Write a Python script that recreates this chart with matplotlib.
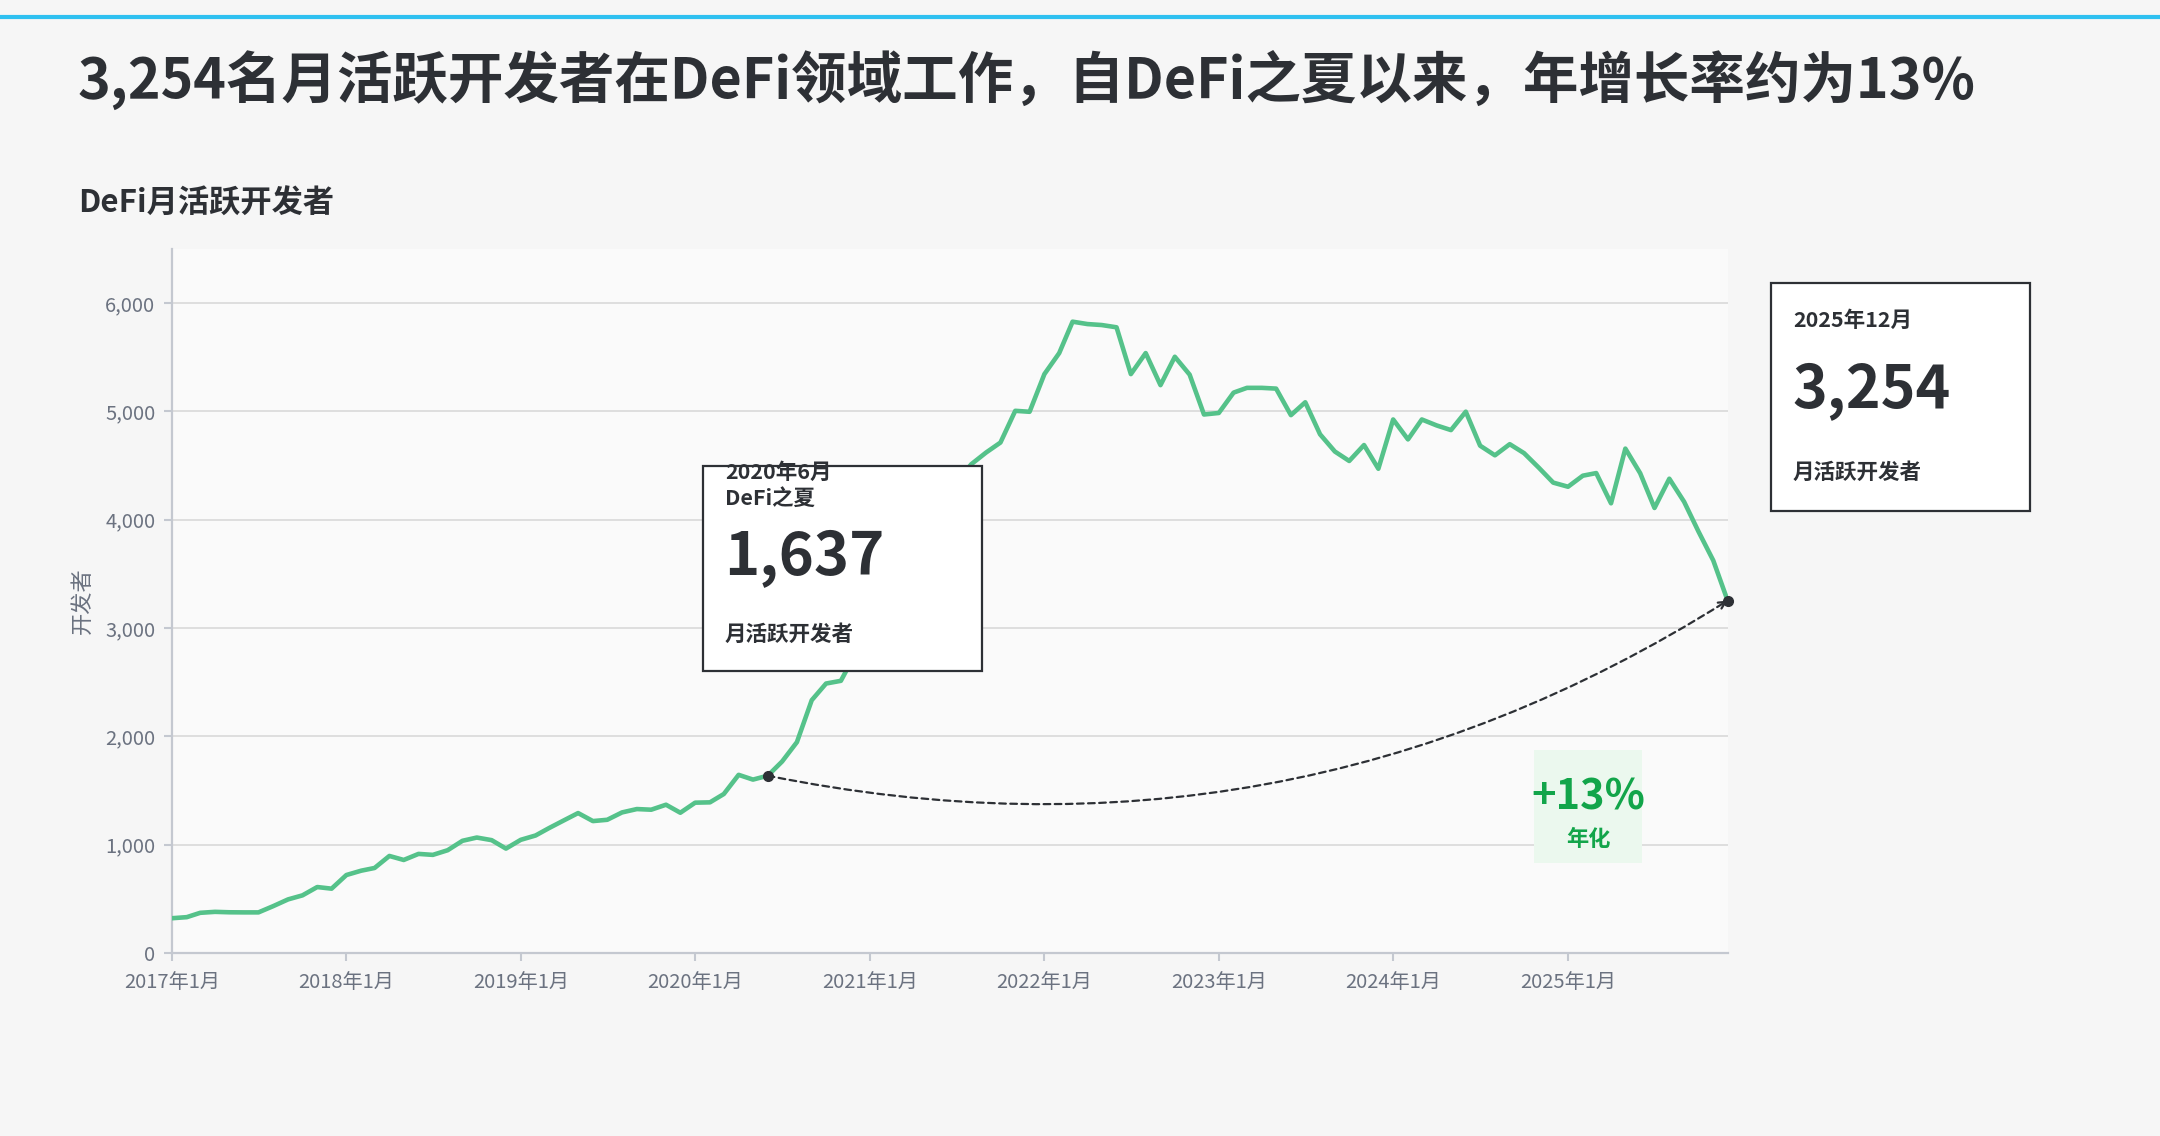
import pandas as pd
import matplotlib
matplotlib.use('Agg')
import matplotlib.pyplot as plt
from matplotlib.patches import Rectangle
from matplotlib.lines import Line2D

plt.rcParams['font.family'] = ['Noto Sans CJK SC', 'DejaVu Sans']

# data ------------------------------------------------
months = pd.date_range('2017-01-01', '2025-12-01', freq='MS')
developers = [
    321, 331, 371, 380, 376, 375, 375, 433, 495, 532, 609, 594,          # 2017
    720, 760, 785, 896, 859, 915, 906, 949, 1036, 1066, 1042, 964,       # 2018
    1045, 1085, 1153, 1224, 1292, 1218, 1230, 1298, 1329, 1323, 1369, 1295,  # 2019
    1388, 1391, 1468, 1645, 1601, 1637, 1768, 1947, 2334, 2488, 2513, 2760,  # 2020
    3000, 3250, 3500, 3750, 3950, 4150, 4350, 4513, 4621, 4713, 5006, 4997,  # 2021
    5345, 5539, 5829, 5807, 5798, 5777, 5345, 5539, 5243, 5505, 5340, 4972,  # 2022
    4986, 5174, 5218, 5218, 5211, 4966, 5085, 4789, 4630, 4543, 4690, 4471,  # 2023
    4926, 4742, 4926, 4871, 4828, 4998, 4684, 4595, 4698, 4615, 4480, 4343,  # 2024
    4305, 4407, 4431, 4152, 4657, 4430, 4109, 4379, 4166, 3892, 3624, 3254,  # 2025
]
y_ticks = [0, 1000, 2000, 3000, 4000, 5000, 6000]
tick_years = list(range(2017, 2026))
summer_idx = 41  # 2020年6月, DeFi之夏

start_val = developers[summer_idx]
end_val = developers[-1]
n_years = (len(developers) - 1 - summer_idx) / 12
cagr = (end_val / start_val) ** (1 / n_years) - 1

# colors
dark = '#2d3035'
grey = '#6b7280'
axis_grey = '#c4c8d0'
green_line = '#55c28a'
green_txt = '#12a54a'

W, H = 2160, 1136


def fx(px):
    return px / W


def fy(py):
    return 1 - py / H


fig = plt.figure(figsize=(W / 100, H / 100), dpi=100, facecolor='#f6f6f6')
ax = fig.add_axes([fx(172), fy(953), (1727.6 - 172) / W, (953 - 249) / H])
ax.set_facecolor('#fafafa')

# plot --------------
ax.plot(months, developers, color=green_line, lw=3.3, zorder=3)

ax.set_xlim(months[0], months[-1])
ax.set_ylim(0, 6500)

ax.set_yticks(y_ticks)
ax.set_yticklabels([f'{v:,}' for v in y_ticks])
ax.set_xticks([pd.Timestamp(f'{y}-01-01') for y in tick_years])
ax.set_xticklabels([f'{y}年1月' for y in tick_years])

ax.grid(axis='y', color='#dcdcdc', lw=1.3)
ax.set_axisbelow(True)
for s in ['top', 'right']:
    ax.spines[s].set_visible(False)
for s in ['left', 'bottom']:
    ax.spines[s].set_color(axis_grey)
    ax.spines[s].set_linewidth(1.6)
ax.tick_params(axis='both', colors=axis_grey, labelcolor=grey, length=6,
               width=1.5, labelsize=14.5)
ax.tick_params(axis='x', pad=7.5)
ax.tick_params(axis='y', pad=6)

ax.set_ylabel('开发者', fontsize=16, color=grey)
ax.yaxis.set_label_coords(-0.050, 0.5)

# dashed growth arc
ax.annotate('', xy=(months[-1], end_val), xytext=(months[summer_idx], start_val),
            arrowprops=dict(arrowstyle='->,head_length=0.5,head_width=0.25',
                            linestyle=(0, (3, 2)), color=dark, lw=1.6,
                            connectionstyle='arc3,rad=0.2',
                            shrinkA=0, shrinkB=0),
            zorder=4)
ax.plot([months[summer_idx]], [start_val], 'o', color=dark, ms=7, zorder=5)
ax.plot([months[-1]], [end_val], 'o', color=dark, ms=7, zorder=5, clip_on=False)

# top accent line
fig.add_artist(Line2D([0, 1], [fy(17), fy(17)], transform=fig.transFigure,
                      color='#2ec0f0', lw=3))

# titles
fig.text(fx(78), fy(80), '3,254名月活跃开发者在DeFi领域工作，自DeFi之夏以来，年增长率约为13%',
         fontsize=40, fontweight='bold', color=dark, va='center')
fig.text(fx(78), fy(204), 'DeFi月活跃开发者', fontsize=22.5, fontweight='bold',
         color=dark, va='center')

# DeFi summer box
fig.add_artist(Rectangle((fx(702.6), fy(670.9)), (982.2 - 702.6) / W, (670.9 - 465.7) / H,
                         transform=fig.transFigure, facecolor='white',
                         edgecolor=dark, lw=1.6))
fig.text(fx(725), fy(472.5), '2020年6月', fontsize=15.5, fontweight='bold',
         color=dark, va='center')
fig.text(fx(725), fy(498), 'DeFi之夏', fontsize=15.5, fontweight='bold',
         color=dark, va='center')
fig.text(fx(724), fy(558), f'{start_val:,}', fontsize=43, fontweight='bold',
         color=dark, va='center')
fig.text(fx(725), fy(634.5), '月活跃开发者', fontsize=15.5, fontweight='bold',
         color=dark, va='center')

# latest value box
fig.add_artist(Rectangle((fx(1770.7), fy(510.7)), (2030 - 1770.7) / W, (510.7 - 283.3) / H,
                         transform=fig.transFigure, facecolor='white',
                         edgecolor=dark, lw=1.6))
fig.text(fx(1793), fy(320.5), f'{months[-1].year}年{months[-1].month}月', fontsize=15.5,
         fontweight='bold', color=dark, va='center')
fig.text(fx(1792), fy(391), f'{end_val:,}', fontsize=42.5, fontweight='bold',
         color=dark, va='center')
fig.text(fx(1793), fy(472), '月活跃开发者', fontsize=15.5, fontweight='bold',
         color=dark, va='center')

# growth badge
fig.add_artist(Rectangle((fx(1534), fy(862.7)), (1642 - 1534) / W, (862.7 - 750) / H,
                         transform=fig.transFigure, facecolor='#ebf8ee', lw=0))
fig.text(fx(1588), fy(797), f'+{cagr * 100:.0f}%', fontsize=30, fontweight='bold',
         color=green_txt, ha='center', va='center')
fig.text(fx(1588), fy(839), '年化', fontsize=16, fontweight='bold',
         color=green_txt, ha='center', va='center')

fig.savefig('out.png', dpi=100, facecolor=fig.get_facecolor())
